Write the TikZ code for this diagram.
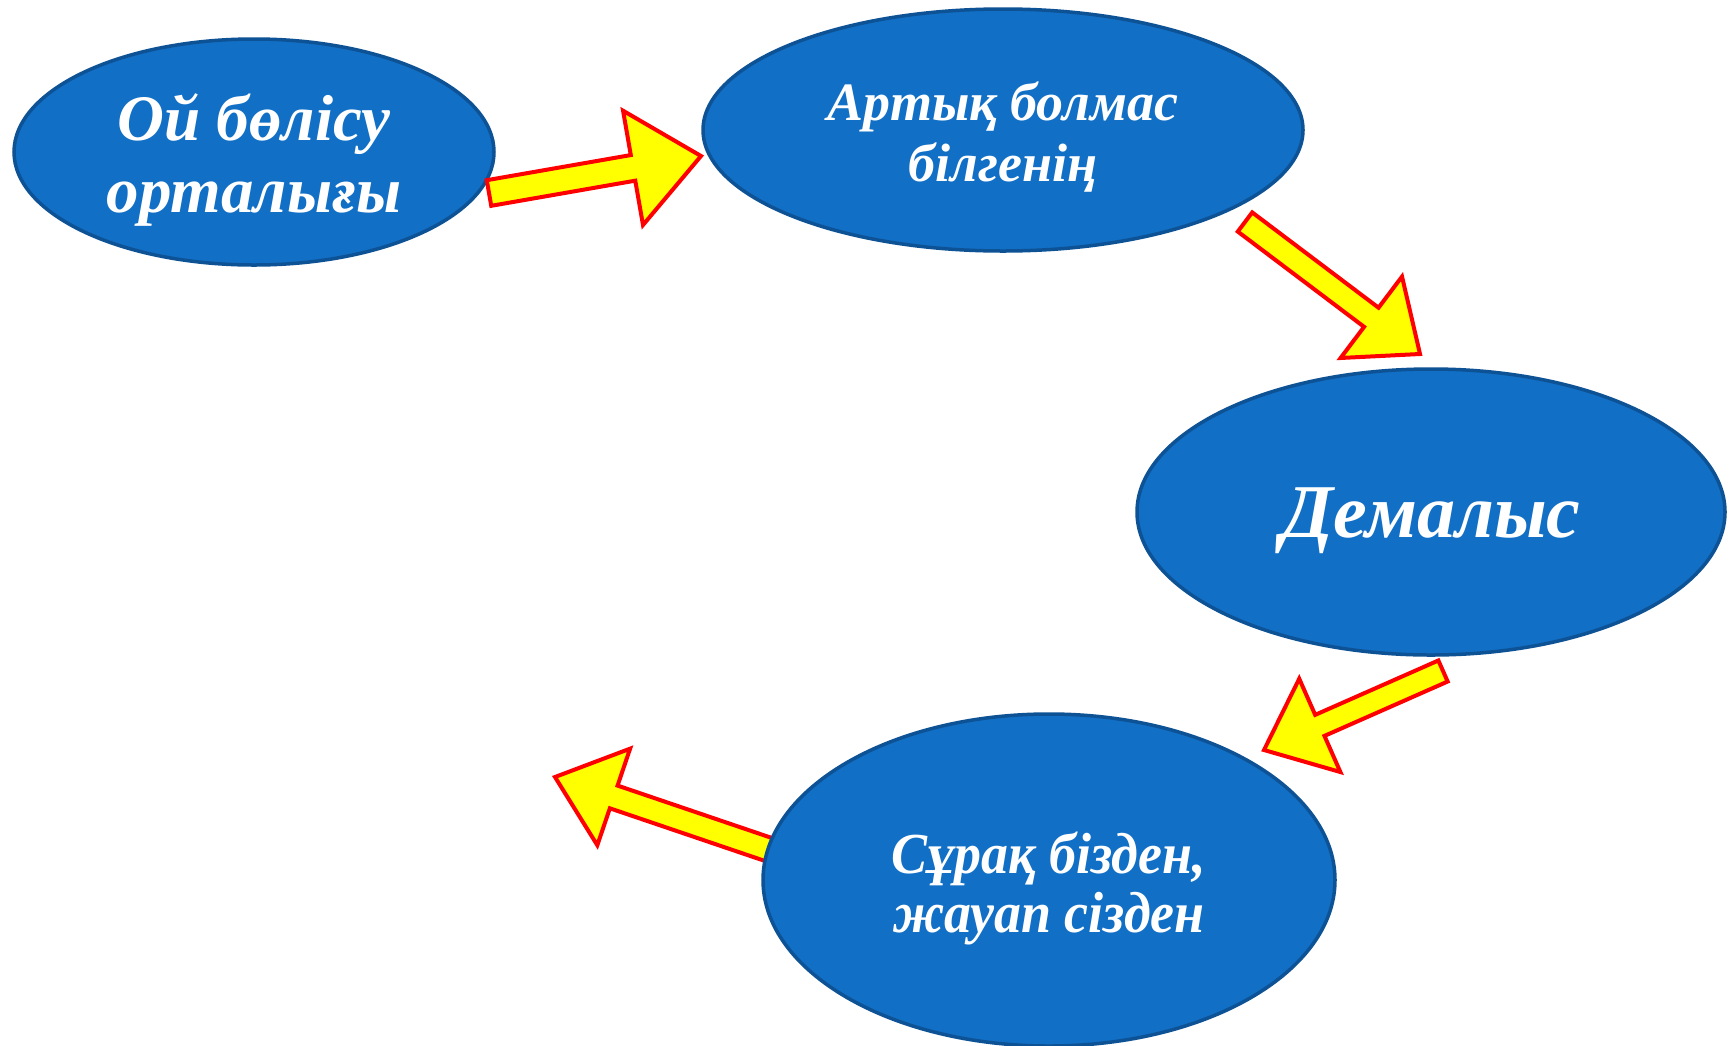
\documentclass[tikz,border=0pt]{standalone}
\usepackage{fontspec}
\setmainfont{Liberation Serif}
\newfontfamily\condfont{Liberation Serif}[FakeStretch=0.93]
\usetikzlibrary{shapes.geometric,calc}
\definecolor{ellfill}{RGB}{17,111,197}
\definecolor{elldraw}{RGB}{14,82,150}
\definecolor{arrfill}{RGB}{255,255,0}
\definecolor{arrdraw}{RGB}{255,0,0}
\tikzset{
  bubble/.style={ellipse, fill=ellfill, draw=elldraw, line width=3.5pt, inner sep=0pt},
  bubbletext/.style={text=white, align=center, inner sep=0pt},
  blockarr/.style={fill=arrfill, draw=arrdraw, line width=4pt, line join=miter},
}
% tail, tip, shaft half-width, head half-width, head length
\newcommand\myblockarrow[5]{%
  \coordinate (tmpB) at ($(#2)!#5!(#1)$);
  \draw[blockarr] ($(#1)!#3!90:(#2)$) -- ($(tmpB)!#3!90:(#2)$) -- ($(tmpB)!#4!90:(#2)$)
     -- (#2) -- ($(tmpB)!#4!-90:(#2)$) -- ($(tmpB)!#3!-90:(#2)$) -- ($(#1)!#3!-90:(#2)$) -- cycle;
}
\begin{document}
\begin{tikzpicture}[x=1pt,y=-1pt]
\useasboundingbox (0,0) rectangle (1736,1045);
\fill[white] (0,0) rectangle (1736,1045);

% free ends / arrow anchors
\coordinate (a1t) at (489,193);
\coordinate (a1p) at (701,156);
\coordinate (a2t) at (1245,222);
\coordinate (a2p) at (1420,354);
\coordinate (a3t) at (1443,671);
\coordinate (a3p) at (1264,750);
\coordinate (a4t) at (770,850);
\coordinate (a4p) at (555,777);

\node[bubble, minimum width=480pt, minimum height=226pt] (e1) at (254,152) {};
\node[bubbletext, font=\bfseries\itshape\fontsize{65}{72}\selectfont, yshift=-8pt] (t1) at (e1.center) {Ой бөлісу\\орталығы};
\node[bubble, minimum width=600pt, minimum height=242pt] (e2) at (1003,130) {};
\node[bubbletext, font=\bfseries\itshape\fontsize{54}{61}\selectfont, yshift=-7pt] (t2) at (e2.center) {Артық болмас\\білгенің};
\node[bubble, minimum width=588pt, minimum height=286pt] (e3) at (1431,512) {};
\node[bubbletext, font=\bfseries\itshape\fontsize{76}{80}\selectfont, yshift=-9pt] (t3) at (e3.center) {Демалыс};

\myblockarrow{a4t}{a4p}{12pt}{51pt}{62pt}
\node[bubble, minimum width=572pt, minimum height=332pt] (e4) at (1049,880) {};
\node[bubbletext, font=\condfont\bfseries\itshape\fontsize{58}{59}\selectfont, yshift=-8pt] (t4) at (e4.center) {Сұрақ бізден,\\жауап сізден};

\myblockarrow{a1t}{a1p}{13pt}{58pt}{69pt}
\myblockarrow{a2t}{a2p}{12pt}{51pt}{61pt}
\myblockarrow{a3t}{a3p}{11.5pt}{51pt}{61pt}
\end{tikzpicture}
\end{document}
